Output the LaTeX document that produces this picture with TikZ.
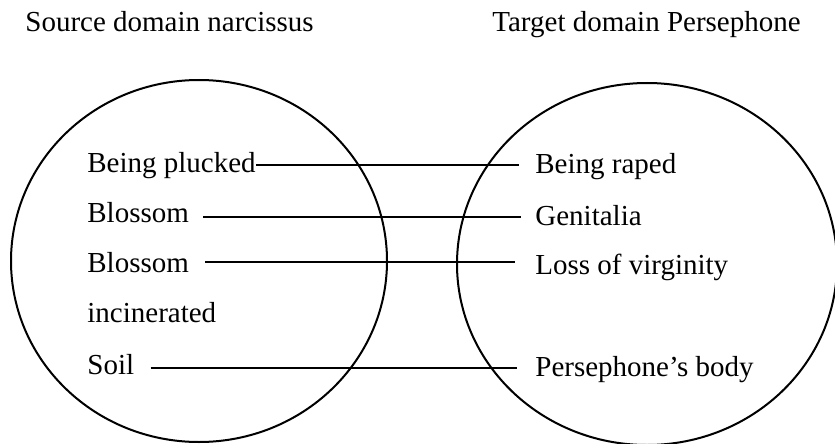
\documentclass[tikz,border=0pt]{standalone}
\usepackage{fontspec}
\setmainfont{Liberation Serif}
\usetikzlibrary{shapes.geometric}
\begin{document}
\begin{tikzpicture}[x=0.5pt,y=-0.5pt,
  domainbox/.style={draw,ellipse,line width=1pt,inner sep=0pt},
  item/.style={anchor=base west,inner sep=0pt,font=\fontsize{14.5}{17}\selectfont},
  heading/.style={item},
  link/.style={line width=0.6pt}]
\useasboundingbox (0,0) rectangle (835,444);

% the two domains
\node[domainbox,minimum width=188pt,minimum height=181pt] (src) at (199,261) {};
\node[domainbox,minimum width=190pt,minimum height=181pt] (tgt) at (647,264) {};

% headings
\node[heading] (srct) at (25,32) {Source domain narcissus};
\node[heading] (tgtt) at (492,32) {Target domain Persephone};

% source side
\node[item] (pluck) at (87,172) {Being plucked};
\node[item] (bloss) at (87,222) {Blossom};
\node[item] (blinc) at (87,272) {Blossom};
\node[item] (incin) at (87,322) {incinerated};
\node[item] (soil)  at (87,374) {Soil};

% target side
\node[item] (raped) at (535,173) {Being raped};
\node[item] (genit) at (535,225) {Genitalia};
\node[item] (virg)  at (535,274) {Loss of virginity};
\node[item] (pbody) at (535,376) {Persephone’s body};

% mappings
\draw[link] ([shift={(0,-7)}]pluck.base east) -- ([shift={(-16,-7)}]pluck.base east -| raped.base west);
\draw[link] ([shift={(14,-5)}]bloss.base east) -- ([shift={(-14,-5)}]bloss.base east -| genit.base west);
\draw[link] ([shift={(16,-10)}]blinc.base east) -- ([shift={(-20,-10)}]blinc.base east -| virg.base west);
\draw[link] ([shift={(16,-6)}]soil.base east) -- ([shift={(-18,-6)}]soil.base east -| pbody.base west);
\end{tikzpicture}
\end{document}
